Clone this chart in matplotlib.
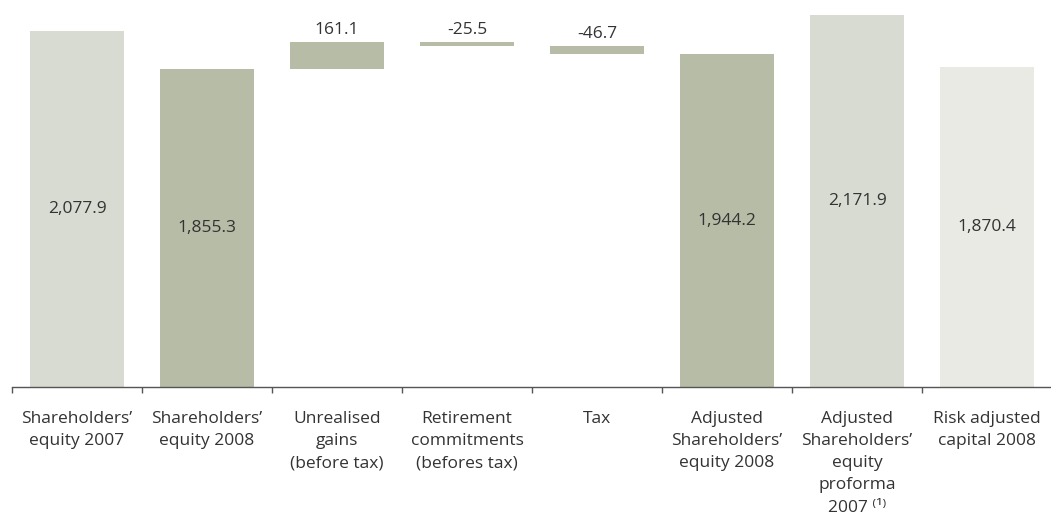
import numpy as np
import matplotlib.pyplot as plt

plt.rcParams['font.family'] = ['Open Sans', 'DejaVu Sans']

categories = ["Shareholders’\nequity 2007", "Shareholders’\nequity 2008",
              "Unrealised\ngains\n(before tax)", "Retirement\ncommitments\n(befores tax)",
              "Tax", "Adjusted\nShareholders’\nequity 2008",
              "Adjusted\nShareholders’\nequity\nproforma\n2007 ⁽¹⁾", "Risk adjusted\ncapital 2008"]
values = [2077.9, 1855.3, 161.1, -25.5, -46.7, 1944.2, 2171.9, 1870.4]
is_delta = [False, False, True, True, True, False, False, False]
colors = ["#d8dbd1", "#b7bca6", "#b7bca6", "#b7bca6", "#b7bca6",
          "#b7bca6", "#d8dbd1", "#e9eae4"]

# bottoms of the waterfall steps, starting from the 2008 equity
bottoms = []
heights = []
running = values[1]
for v, d in zip(values, is_delta):
    if d:
        bottoms.append(min(running, running + v))
        heights.append(abs(v))
        running += v
    else:
        bottoms.append(0)
        heights.append(v)

fig = plt.figure(figsize=(10.51, 5.15), dpi=100)
ax = fig.add_axes([12/1051, 128/515, 1040/1051, 387/515])

x = np.arange(len(values))
ax.bar(x, heights, bottom=bottoms, width=0.72, color=colors)

for xi, v, b, h, d in zip(x, values, bottoms, heights, is_delta):
    if d:
        ax.text(xi, b + h + 68, f"{v:.1f}", ha='center', va='center',
                fontsize=12.5, color='#333333')
    else:
        ax.text(xi, h / 2, f"{v:,.1f}", ha='center', va='center',
                fontsize=12.5, color='#333333')

ax.set_xlim(-0.5, 7.5)
ax.set_ylim(0, 2260)
ax.set_yticks([])
for s in ['top', 'right', 'left']:
    ax.spines[s].set_visible(False)
ax.spines['bottom'].set_color('#555555')
ax.spines['bottom'].set_linewidth(1)

ax.set_xticks(x)
ax.set_xticklabels(categories, fontsize=12.5, color='#333333', linespacing=1.52,
                   va='top')
ax.tick_params(axis='x', which='major', length=0, pad=17)
ax.set_xticks(np.arange(-0.5, 7.5, 1), minor=True)
ax.tick_params(axis='x', which='minor', length=4, width=1, color='#555555')

fig.savefig('out.png', dpi=100)
